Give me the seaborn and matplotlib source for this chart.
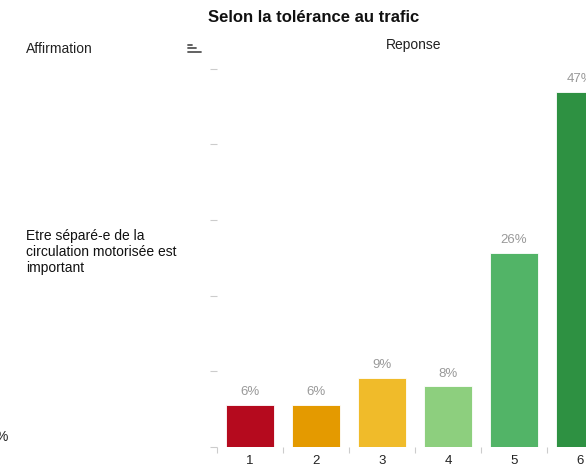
import pandas as pd
import matplotlib.pyplot as plt
import seaborn as sns
from matplotlib.lines import Line2D

# Données
reponses = ['1', '2', '3', '4', '5', '6']
pourcentages = [5.6, 5.6, 9.1, 8.0, 25.6, 46.9]
couleurs = ['#B50A1E', '#E49A00', '#F0BB2A', '#8DCF7E', '#52B467', '#2E9142']
affirmation = 'Etre séparé-e de la\ncirculation motorisée est\nimportant'

df = pd.DataFrame({'Reponse': reponses, 'pct': pourcentages})

sns.set_style('white')
plt.rcParams['font.family'] = ['Liberation Sans', 'DejaVu Sans']

fig = plt.figure(figsize=(5.86, 4.68), dpi=100)
W, H = 586, 468
# l'axe dépasse à droite, comme la capture d'origine
ax = fig.add_axes([217 / W, (H - 447) / H, 396 / W, 386 / H])

sns.barplot(data=df, x='Reponse', y='pct', hue='Reponse', palette=couleurs,
            width=0.74, saturation=1, legend=False, ax=ax,
            edgecolor='white', linewidth=0.6)

for i, v in enumerate(pourcentages):
    ax.text(i, v + 0.9, f'{v:.0f}%', ha='center', va='bottom', color='#999999', fontsize=9.5)

ax.set_ylim(0, 51)
ax.set_xlim(-0.5, 5.5)
ax.set_yticks(range(0, 60, 10))
ax.tick_params(axis='y', left=True, length=5, color='#cccccc', labelleft=False, width=0.8)
ax.set_xticks(range(6))
ax.set_xticks([i - 0.5 for i in range(7)], minor=True)
ax.tick_params(axis='x', which='major', bottom=True, length=0, pad=6, labelsize=9.5,
               labelcolor='#222222')
ax.tick_params(axis='x', which='minor', bottom=True, length=4, color='#cccccc', width=0.8)
ax.set_xlabel('')
ax.set_ylabel('')
sns.despine(ax=ax, left=True, bottom=True)

# Textes d'en-tête
fig.text(314 / W, 1 - 18 / H, 'Selon la tolérance au trafic', ha='center', va='center',
         fontsize=12, fontweight='bold', color='#111111')
fig.text(26 / W, 1 - 49 / H, 'Affirmation', ha='left', va='center', fontsize=10, color='#222222')
fig.text(414 / W, 1 - 45 / H, 'Reponse', ha='center', va='center', fontsize=10, color='#222222')
fig.text(26 / W, 1 - 252 / H, affirmation, ha='left', va='center', fontsize=10,
         color='#111111', linespacing=1.15)
fig.text(-5 / W, 1 - 437 / H, '%', ha='left', va='center', fontsize=10, color='#222222')

# icône de tri
for y, x0, x1 in [(44.5, 188, 192), (48, 188, 196), (51.5, 188, 201)]:
    fig.add_artist(Line2D([x0 / W, x1 / W], [1 - y / H, 1 - y / H], color='#555555', lw=1.3))

fig.savefig('out.png', dpi=100)
